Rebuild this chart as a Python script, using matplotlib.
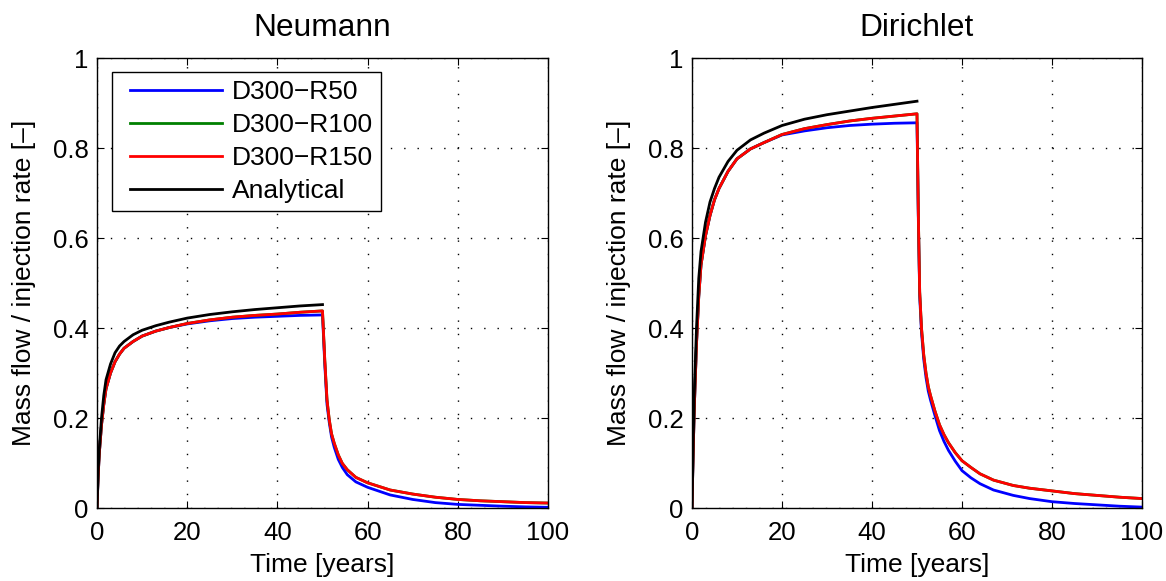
import matplotlib
matplotlib.use("Agg")
import matplotlib.pyplot as plt
from matplotlib.legend_handler import HandlerLine2D

# time axes (years) for the injection phase and the recovery phase
t_rise = [0, 0.25, 0.5, 1, 1.5, 2, 3, 4, 5, 6, 8, 10, 13, 16, 20, 25, 30, 35, 40, 45, 50]
t_neu_decay = [50, 50.5, 51, 51.5, 52, 52.6, 53.5, 54.4, 55.5, 57.4, 60, 65, 70, 75, 80, 85, 90, 95, 100]
t_dir_decay = [50, 50.3, 50.6, 51, 51.5, 52, 52.5, 53, 54, 55, 56, 57, 58.5, 60, 62, 64, 67,
               71.4, 75, 80, 85, 90, 95, 100]

# Neumann
neu_ana = [0, 0.08, 0.13, 0.20, 0.25, 0.285, 0.32, 0.345, 0.36, 0.37, 0.385, 0.395,
           0.405, 0.413, 0.422, 0.43, 0.436, 0.441, 0.445, 0.449, 0.452]
neu_r150_rise = [0, 0.07, 0.12, 0.185, 0.23, 0.265, 0.30, 0.325, 0.342, 0.355, 0.37, 0.382,
                 0.393, 0.401, 0.41, 0.418, 0.424, 0.428, 0.431, 0.435, 0.438]
neu_r50_rise = [0, 0.07, 0.12, 0.185, 0.23, 0.265, 0.30, 0.325, 0.342, 0.355, 0.37, 0.382,
                0.393, 0.401, 0.409, 0.416, 0.421, 0.424, 0.426, 0.428, 0.429]
neu_r150_decay = [0.438, 0.33, 0.24, 0.196, 0.165, 0.144, 0.118, 0.099, 0.085, 0.068, 0.056,
                  0.04, 0.031, 0.024, 0.019, 0.016, 0.014, 0.012, 0.011]
neu_r50_decay = [0.429, 0.32, 0.23, 0.19, 0.158, 0.135, 0.108, 0.09, 0.074, 0.058, 0.046,
                 0.029, 0.019, 0.012, 0.008, 0.006, 0.004, 0.0025, 0.0015]
neu_r100_rise = neu_r150_rise      # hidden under R150
neu_r100_decay = neu_r150_decay

# Dirichlet
dir_ana = [0, 0.14, 0.25, 0.40, 0.51, 0.57, 0.635, 0.68, 0.71, 0.735, 0.77, 0.795,
           0.818, 0.833, 0.85, 0.864, 0.874, 0.882, 0.89, 0.897, 0.904]
dir_r150_rise = [0, 0.12, 0.22, 0.365, 0.47, 0.54, 0.605, 0.65, 0.685, 0.71, 0.748, 0.776,
                 0.798, 0.812, 0.83, 0.843, 0.852, 0.86, 0.866, 0.871, 0.876]
dir_r50_rise = [0, 0.12, 0.22, 0.365, 0.47, 0.54, 0.605, 0.65, 0.685, 0.71, 0.748, 0.776,
                0.798, 0.812, 0.829, 0.838, 0.845, 0.85, 0.853, 0.855, 0.856]
dir_r150_decay = [0.876, 0.65, 0.48, 0.40, 0.34, 0.30, 0.27, 0.25, 0.215, 0.185, 0.163, 0.145,
                  0.123, 0.105, 0.09, 0.076, 0.062, 0.05, 0.044, 0.038, 0.032, 0.028, 0.024, 0.021]
dir_r50_decay = [0.856, 0.64, 0.47, 0.39, 0.33, 0.29, 0.26, 0.24, 0.205, 0.172, 0.148, 0.128,
                 0.104, 0.083, 0.067, 0.054, 0.04, 0.028, 0.021, 0.014, 0.01, 0.007, 0.004, 0.002]
dir_r100_rise = dir_r150_rise
dir_r100_decay = dir_r150_decay

labels = ['D300\u2212R50', 'D300\u2212R100', 'D300\u2212R150', 'Analytical']
colors = ['#0000ff', '#008000', '#ff0000', '#000000']
titles = ['Neumann', 'Dirichlet']
xticks = [0, 20, 40, 60, 80, 100]
yticks = [0, 0.2, 0.4, 0.6, 0.8, 1]
ytick_labels = ['0', '0.2', '0.4', '0.6', '0.8', '1']

plt.rcParams['font.family'] = ['Liberation Sans', 'DejaVu Sans']
plt.rcParams['font.size'] = 19

fig = plt.figure(figsize=(11.66, 5.81), dpi=100)
ax1 = fig.add_axes([97 / 1166, 73 / 581, 451 / 1166, 450 / 581])
ax2 = fig.add_axes([692 / 1166, 73 / 581, 450 / 1166, 450 / 581])

panels = [
    (ax1, t_neu_decay, [(neu_r50_rise, neu_r50_decay), (neu_r100_rise, neu_r100_decay),
                        (neu_r150_rise, neu_r150_decay)], neu_ana),
    (ax2, t_dir_decay, [(dir_r50_rise, dir_r50_decay), (dir_r100_rise, dir_r100_decay),
                        (dir_r150_rise, dir_r150_decay)], dir_ana),
]

for k, (ax, t_dec, series, ana) in enumerate(panels):
    for (rise, dec), c, lab in zip(series, colors, labels):
        ax.plot(t_rise + t_dec[1:], rise + dec[1:], color=c, lw=2.0, label=lab)
    ax.plot(t_rise, ana, color=colors[3], lw=2.0, label=labels[3])

    ax.set_xlim(0, 100)
    ax.set_ylim(0, 1)
    ax.set_xticks(xticks)
    ax.set_yticks(yticks)
    ax.set_yticklabels(ytick_labels)
    ax.grid(True, color='k', linestyle=(0, (1, 8.6)), linewidth=1.0)
    ax.tick_params(direction='in', top=True, right=True, length=5, width=0.8,
                   pad=6, labelsize=18.5)
    ax.tick_params(axis='x', pad=9)
    for s in ax.spines.values():
        s.set_linewidth(1.0)
    ax.set_title(titles[k], pad=16)
    ax.set_xlabel('Time [years]', labelpad=6)
    ax.set_ylabel('Mass flow / injection rate [\u2013]', labelpad=12)

leg = ax1.legend(loc='upper left', bbox_to_anchor=(0.0333, 0.969), borderaxespad=0,
                 fancybox=False, framealpha=1, edgecolor='k', handlelength=3.86,
                 handletextpad=0.4, labelspacing=0.34, borderpad=0.3,
                 handler_map={plt.Line2D: HandlerLine2D(xpad=0.38)})
leg.get_frame().set_linewidth(1.0)

fig.savefig('out.png', dpi=100)
